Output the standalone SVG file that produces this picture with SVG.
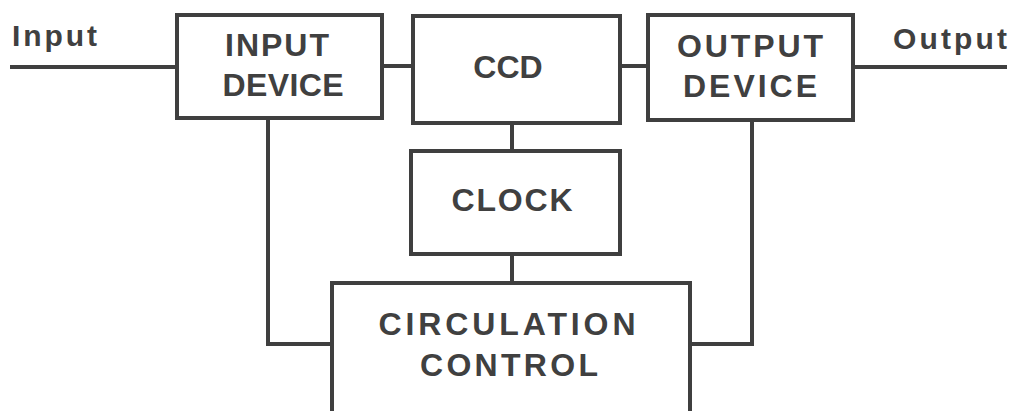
<svg xmlns="http://www.w3.org/2000/svg" width="1012" height="411" viewBox="0 0 1012 411">
<style>
.box{fill:#fff;stroke:#3f3f3f;stroke-width:4;stroke-linejoin:miter}
.wire{fill:none;stroke:#3f3f3f;stroke-width:4;stroke-linejoin:miter;stroke-linecap:butt}
.lbl{font-family:"Liberation Sans",Arial,sans-serif;font-weight:bold;font-size:32px;fill:#404040;text-anchor:middle}
.io{font-family:"Liberation Sans",Arial,sans-serif;font-weight:bold;font-size:30px;fill:#404040}
</style>
<rect width="1012" height="411" fill="#fff"/>
<g id="connectors">
<path class="wire" d="M10 67H177"/>
<path class="wire" d="M382 66H413"/>
<path class="wire" d="M620 66H648"/>
<path class="wire" d="M853 67H1007"/>
<path class="wire" d="M268 118V344H332"/>
<path class="wire" d="M512 123V151"/>
<path class="wire" d="M512 254V283"/>
<path class="wire" d="M752 120V344H690"/>
</g>
<g id="input-label"><text class="io" x="12" y="46" textLength="85" lengthAdjust="spacing">Input</text></g>
<g id="output-label"><text class="io" x="893" y="49" textLength="114" lengthAdjust="spacing">Output</text></g>
<g id="input-device">
<rect class="box" x="177" y="15" width="205" height="103"/>
<text class="lbl" x="277" y="56" textLength="104" lengthAdjust="spacing">INPUT</text>
<text class="lbl" x="283" y="96" textLength="121" lengthAdjust="spacing">DEVICE</text>
</g>
<g id="ccd">
<rect class="box" x="413" y="16" width="207" height="107"/>
<text class="lbl" x="508" y="78">CCD</text>
</g>
<g id="output-device">
<rect class="box" x="648" y="15" width="205" height="105"/>
<text class="lbl" x="750" y="57" textLength="146" lengthAdjust="spacing">OUTPUT</text>
<text class="lbl" x="750" y="97" textLength="134" lengthAdjust="spacing">DEVICE</text>
</g>
<g id="clock">
<rect class="box" x="411" y="151" width="209" height="103"/>
<text class="lbl" x="512" y="211" textLength="121" lengthAdjust="spacing">CLOCK</text>
</g>
<g id="circulation-control">
<rect class="box" x="332" y="283" width="358" height="150"/>
<text class="lbl" x="507" y="335" textLength="257" lengthAdjust="spacing">CIRCULATION</text>
<text class="lbl" x="509" y="376" textLength="178" lengthAdjust="spacing">CONTROL</text>
</g>
</svg>
